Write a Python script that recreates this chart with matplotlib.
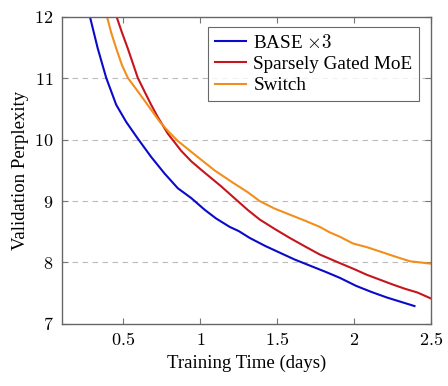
import numpy as np
import matplotlib.pyplot as plt

plt.rcParams['font.family'] = ['Liberation Serif', 'DejaVu Serif']
plt.rcParams['mathtext.fontset'] = 'cm'

# values
base_x = [0.283, 0.333, 0.388, 0.453, 0.518, 0.593, 0.68, 0.767, 0.853, 0.94,
          1.027, 1.10, 1.19, 1.25, 1.32, 1.42, 1.515, 1.61,
          1.71, 1.81, 1.905, 2.01, 2.11, 2.21, 2.30, 2.39]
base_y = [12.0, 11.49, 11.01, 10.57, 10.29, 10.02, 9.72, 9.45, 9.21, 9.05,
          8.86, 8.72, 8.58, 8.51, 8.40, 8.27, 8.16, 8.05,
          7.95, 7.85, 7.75, 7.62, 7.52, 7.43, 7.36, 7.29]

moe_x = [0.456, 0.49, 0.528, 0.593, 0.64, 0.68, 0.723, 0.788, 0.875, 0.94, 1.005, 1.135,
         1.22, 1.31, 1.385, 1.48, 1.58, 1.68, 1.775, 1.84, 1.905, 2.0,
         2.08, 2.165, 2.25, 2.33, 2.41, 2.5]
moe_y = [12.0, 11.75, 11.49, 11.01, 10.77, 10.57, 10.37, 10.1, 9.82, 9.65, 9.51, 9.24,
         9.05, 8.85, 8.70, 8.55, 8.40, 8.26, 8.13, 8.06, 7.99, 7.89,
         7.80, 7.72, 7.64, 7.57, 7.51, 7.41]

switch_x = [0.394, 0.42, 0.453, 0.49, 0.528, 0.59, 0.648, 0.734, 0.79, 0.853, 0.962, 1.092,
            1.211, 1.31, 1.385, 1.48, 1.58, 1.68, 1.775, 1.84,
            1.905, 1.99, 2.08, 2.165, 2.26, 2.36, 2.43, 2.5]
switch_y = [12.0, 11.75, 11.49, 11.22, 11.01, 10.8, 10.6, 10.3, 10.14, 9.98, 9.76, 9.5,
            9.3, 9.14, 9.0, 8.88, 8.78, 8.68, 8.58, 8.49,
            8.42, 8.31, 8.25, 8.18, 8.10, 8.02, 8.0, 7.98]

x_ticks = [0.5, 1, 1.5, 2, 2.5]
x_tick_labels = ['0.5', '1', '1.5', '2', '2.5']
y_ticks = [7, 8, 9, 10, 11, 12]

fig = plt.figure(figsize=(4.48, 3.86), dpi=100)
ax = fig.add_axes([0.138, 0.161, 0.825, 0.795])

ax.plot(base_x, base_y, color='#0a0acb', lw=1.5, label=r'BASE $\times 3$')
ax.plot(moe_x, moe_y, color='#c5161d', lw=1.5, label='Sparsely Gated MoE')
ax.plot(switch_x, switch_y, color='#f28e1c', lw=1.5, label='Switch')

for yv in y_ticks[1:-1]:
    ax.axhline(yv, color='#bbbbbb', lw=0.8, ls=(0, (5, 4)), zorder=0)

ax.set_xlim(0.1, 2.5)
ax.set_ylim(7, 12)
ax.set_xticks(x_ticks)
ax.set_xticklabels(['$%s$' % t for t in x_tick_labels])
ax.set_yticks(y_ticks)
ax.set_yticklabels(['$%d$' % t for t in y_ticks])
ax.tick_params(direction='in', top=True, right=True, length=4, color='#777777',
               labelsize=13, pad=6)
for s in ax.spines.values():
    s.set_color('#666666')
    s.set_linewidth(1.0)

ax.set_xlabel('Training Time (days)', fontsize=13.5)
ax.set_ylabel('Validation Perplexity', fontsize=13.5)

leg = ax.legend(loc='upper right', fontsize=13.8, fancybox=False, edgecolor='#444444',
                handlelength=1.6, handletextpad=0.4, borderpad=0.35, labelspacing=0.2,
                borderaxespad=0, bbox_to_anchor=(0.967, 0.967))
leg.get_frame().set_linewidth(0.8)

fig.savefig('out.png', dpi=100)
